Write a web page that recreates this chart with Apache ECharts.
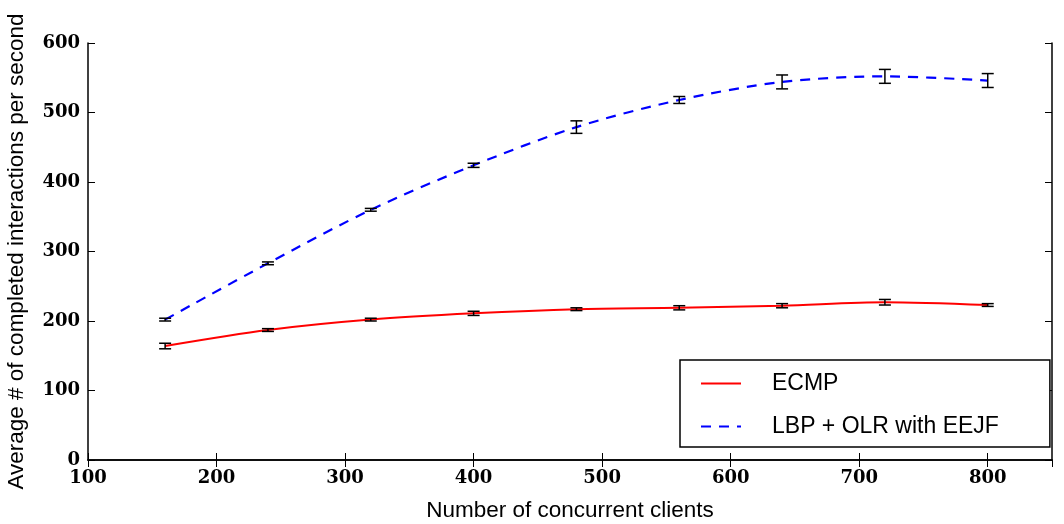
<!DOCTYPE html>
<html>
<head>
<meta charset="utf-8">
<script src="https://cdn.jsdelivr.net/npm/echarts@6/dist/echarts.min.js"></script>
<style>
  html, body { margin: 0; padding: 0; background: #fff; }
  #chart { width: 1064px; height: 524px; }
</style>
</head>
<body>
<div id="chart"></div>
<script>
// Concurrent clients on the x axis
const clients = [160, 240, 320, 400, 480, 560, 640, 720, 800];

// Mean completed interactions per second and the error half-widths
const ecmpMean = [164, 187, 202, 211, 217, 219, 222, 227, 223];
const ecmpErr  = [4, 2, 2, 3, 2, 3, 3, 4, 2];
const lbpMean  = [202, 283, 360, 424, 479, 518, 544, 552, 546];
const lbpErr   = [2, 2, 2, 3, 9, 5, 10, 10, 10];

const seriesNames = ['ECMP', 'LBP + OLR with EEJF'];

const tickFont = { fontFamily: 'DejaVu Serif', fontWeight: 'bold', fontSize: 18, color: '#000' };
const nameFont = { fontFamily: 'Liberation Sans', fontSize: 22.5, color: '#000' };

function pairs(xs, ys) { return xs.map((x, i) => [x, ys[i]]); }
function errRows(xs, ys, es) { return xs.map((x, i) => [x, ys[i] - es[i], ys[i] + es[i]]); }

// Vertical error bar with short caps
function renderErr(params, api) {
  const x = api.value(0);
  const lo = api.coord([x, api.value(1)]);
  const hi = api.coord([x, api.value(2)]);
  const w = 6;
  const style = { stroke: '#000', lineWidth: 1.5, fill: null };
  return {
    type: 'group',
    children: [
      { type: 'line', shape: { x1: lo[0], y1: lo[1], x2: hi[0], y2: hi[1] }, style },
      { type: 'line', shape: { x1: lo[0] - w, y1: lo[1], x2: lo[0] + w, y2: lo[1] }, style },
      { type: 'line', shape: { x1: hi[0] - w, y1: hi[1], x2: hi[0] + w, y2: hi[1] }, style }
    ]
  };
}

const axisLine = { show: true, lineStyle: { color: '#000', width: 1.5 } };
const tickIn = { show: true, inside: true, length: 7, lineStyle: { color: '#000', width: 1 } };

const chart = echarts.init(document.getElementById('chart'), null, { renderer: 'canvas' });
chart.setOption({
  animation: false,
  backgroundColor: '#fff',
  grid: { left: 88, right: 12, top: 43, bottom: 64, containLabel: false, outerBoundsMode: 'none' },
  xAxis: [{
    type: 'value', min: 100, max: 850, interval: 100,
    name: 'Number of concurrent clients', nameLocation: 'middle', nameGap: 39,
    nameTextStyle: nameFont,
    axisLine, axisTick: tickIn,
    axisLabel: Object.assign({ margin: 9, showMaxLabel: false }, tickFont),
    splitLine: { show: false }
  }, {
    type: 'value', min: 100, max: 850, interval: 100, position: 'top',
    axisLine, axisTick: tickIn, axisLabel: { show: false }, splitLine: { show: false }
  }],
  yAxis: [{
    type: 'value', min: 0, max: 600, interval: 100,
    name: 'Average # of completed interactions per second', nameLocation: 'middle', nameGap: 60,
    nameTextStyle: nameFont,
    axisLine, axisTick: tickIn,
    axisLabel: Object.assign({ margin: 8 }, tickFont),
    splitLine: { show: false }
  }, {
    type: 'value', min: 0, max: 600, interval: 100, position: 'right',
    axisLine, axisTick: tickIn, axisLabel: { show: false }, splitLine: { show: false }
  }],
  legend: {
    orient: 'vertical', left: 680, top: 360,
    padding: [12, 51, 9, 20], itemGap: 20, itemWidth: 40, itemHeight: 22,
    borderColor: '#000', borderWidth: 1.5, borderRadius: 0, backgroundColor: '#fff',
    itemStyle: { opacity: 0 },
    data: seriesNames,
    textStyle: { fontFamily: 'Liberation Sans', fontSize: 23, color: '#000', padding: [0, 0, 0, 26] }
  },
  series: [{
    name: seriesNames[0], type: 'line', data: pairs(clients, ecmpMean),
    symbol: 'none', smooth: 0.3, color: '#ff0000',
    lineStyle: { color: '#ff0000', width: 2 }, z: 2
  }, {
    name: seriesNames[1], type: 'line', data: pairs(clients, lbpMean),
    symbol: 'none', smooth: 0.3, color: '#0000ff',
    lineStyle: { color: '#0000ff', width: 2.2, type: [10, 8] }, z: 2
  }, {
    type: 'custom', renderItem: renderErr, data: errRows(clients, ecmpMean, ecmpErr), z: 3
  }, {
    type: 'custom', renderItem: renderErr, data: errRows(clients, lbpMean, lbpErr), z: 3
  }]
});
</script>
</body>
</html>
